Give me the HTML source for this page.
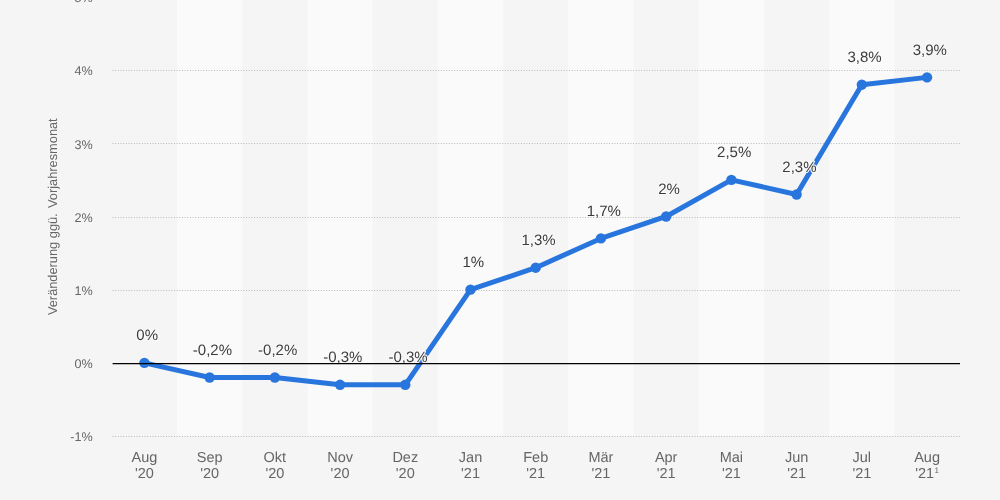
<!DOCTYPE html>
<html><head><meta charset="utf-8"><style>
html,body{margin:0;padding:0;background:#f5f5f5;}
svg{display:block;will-change:transform;}
text{font-family:"Liberation Sans",sans-serif;text-rendering:geometricPrecision;}
.yl{font-size:12.6px;fill:#666;}
.xl{font-size:14.5px;fill:#666;}
.sup{font-size:8px;}
.dl{font-size:15px;fill:#3c3c3c;}
.halo{stroke:#fafafa;stroke-width:2.2px;stroke-linejoin:round;}
.at{font-size:12.8px;fill:#666;}
</style></head><body>
<svg width="1000" height="500" viewBox="0 0 1000 500">
<rect x="0" y="0" width="1000" height="500" fill="#f5f5f5"/>
<rect x="177.02" y="0" width="65.22" height="436.5" fill="#fafafa"/>
<rect x="307.46" y="0" width="65.22" height="436.5" fill="#fafafa"/>
<rect x="437.90" y="0" width="65.22" height="436.5" fill="#fafafa"/>
<rect x="568.34" y="0" width="65.22" height="436.5" fill="#fafafa"/>
<rect x="698.78" y="0" width="65.22" height="436.5" fill="#fafafa"/>
<rect x="829.22" y="0" width="65.22" height="436.5" fill="#fafafa"/>
<line x1="112.5" y1="-2.5" x2="960" y2="-2.5" stroke="#b8b8b8" stroke-width="1" stroke-dasharray="1,1.67"/>
<line x1="112.5" y1="70.5" x2="960" y2="70.5" stroke="#b8b8b8" stroke-width="1" stroke-dasharray="1,1.67"/>
<line x1="112.5" y1="143.5" x2="960" y2="143.5" stroke="#b8b8b8" stroke-width="1" stroke-dasharray="1,1.67"/>
<line x1="112.5" y1="217.5" x2="960" y2="217.5" stroke="#b8b8b8" stroke-width="1" stroke-dasharray="1,1.67"/>
<line x1="112.5" y1="290.5" x2="960" y2="290.5" stroke="#b8b8b8" stroke-width="1" stroke-dasharray="1,1.67"/>
<line x1="112.5" y1="436.5" x2="960" y2="436.5" stroke="#b8b8b8" stroke-width="1" stroke-dasharray="1,1.67"/>
<text x="92.6" y="2.10" text-anchor="end" class="yl">5%</text>
<text x="92.6" y="75.30" text-anchor="end" class="yl">4%</text>
<text x="92.6" y="148.50" text-anchor="end" class="yl">3%</text>
<text x="92.6" y="221.70" text-anchor="end" class="yl">2%</text>
<text x="92.6" y="294.90" text-anchor="end" class="yl">1%</text>
<text x="92.6" y="368.10" text-anchor="end" class="yl">0%</text>
<text x="92.6" y="441.30" text-anchor="end" class="yl">-1%</text>
<path d="M144.41,362.85 L209.63,377.49 L274.85,377.49 L340.07,384.81 L405.29,384.81 L470.51,289.65 L535.73,267.69 L600.95,238.41 L666.17,216.45 L731.39,179.85 L796.61,194.49 L861.83,84.69 L927.05,77.37" fill="none" stroke="#2876dd" stroke-width="5" stroke-linejoin="round" stroke-linecap="round"/>
<circle cx="144.41" cy="362.85" r="5.2" fill="#2876dd"/>
<circle cx="209.63" cy="377.49" r="5.2" fill="#2876dd"/>
<circle cx="274.85" cy="377.49" r="5.2" fill="#2876dd"/>
<circle cx="340.07" cy="384.81" r="5.2" fill="#2876dd"/>
<circle cx="405.29" cy="384.81" r="5.2" fill="#2876dd"/>
<circle cx="470.51" cy="289.65" r="5.2" fill="#2876dd"/>
<circle cx="535.73" cy="267.69" r="5.2" fill="#2876dd"/>
<circle cx="600.95" cy="238.41" r="5.2" fill="#2876dd"/>
<circle cx="666.17" cy="216.45" r="5.2" fill="#2876dd"/>
<circle cx="731.39" cy="179.85" r="5.2" fill="#2876dd"/>
<circle cx="796.61" cy="194.49" r="5.2" fill="#2876dd"/>
<circle cx="861.83" cy="84.69" r="5.2" fill="#2876dd"/>
<circle cx="927.05" cy="77.37" r="5.2" fill="#2876dd"/>
<text x="147.21" y="340.40" text-anchor="middle" class="dl halo">0%</text>
<text x="147.21" y="340.40" text-anchor="middle" class="dl">0%</text>
<text x="212.43" y="355.04" text-anchor="middle" class="dl halo">-0,2%</text>
<text x="212.43" y="355.04" text-anchor="middle" class="dl">-0,2%</text>
<text x="277.65" y="355.04" text-anchor="middle" class="dl halo">-0,2%</text>
<text x="277.65" y="355.04" text-anchor="middle" class="dl">-0,2%</text>
<text x="342.87" y="362.36" text-anchor="middle" class="dl halo">-0,3%</text>
<text x="342.87" y="362.36" text-anchor="middle" class="dl">-0,3%</text>
<text x="408.09" y="362.36" text-anchor="middle" class="dl halo">-0,3%</text>
<text x="408.09" y="362.36" text-anchor="middle" class="dl">-0,3%</text>
<text x="473.31" y="267.20" text-anchor="middle" class="dl halo">1%</text>
<text x="473.31" y="267.20" text-anchor="middle" class="dl">1%</text>
<text x="538.53" y="245.24" text-anchor="middle" class="dl halo">1,3%</text>
<text x="538.53" y="245.24" text-anchor="middle" class="dl">1,3%</text>
<text x="603.75" y="215.96" text-anchor="middle" class="dl halo">1,7%</text>
<text x="603.75" y="215.96" text-anchor="middle" class="dl">1,7%</text>
<text x="668.97" y="194.00" text-anchor="middle" class="dl halo">2%</text>
<text x="668.97" y="194.00" text-anchor="middle" class="dl">2%</text>
<text x="734.19" y="157.40" text-anchor="middle" class="dl halo">2,5%</text>
<text x="734.19" y="157.40" text-anchor="middle" class="dl">2,5%</text>
<text x="799.41" y="172.04" text-anchor="middle" class="dl halo">2,3%</text>
<text x="799.41" y="172.04" text-anchor="middle" class="dl">2,3%</text>
<text x="864.63" y="62.24" text-anchor="middle" class="dl halo">3,8%</text>
<text x="864.63" y="62.24" text-anchor="middle" class="dl">3,8%</text>
<text x="929.85" y="54.92" text-anchor="middle" class="dl halo">3,9%</text>
<text x="929.85" y="54.92" text-anchor="middle" class="dl">3,9%</text>
<line x1="112.6" y1="363.6" x2="960" y2="363.6" stroke="#000" stroke-width="1.2"/>
<text x="144.41" y="461.8" text-anchor="middle" class="xl">Aug</text>
<text x="144.41" y="477.6" text-anchor="middle" class="xl">'20</text>
<text x="209.63" y="461.8" text-anchor="middle" class="xl">Sep</text>
<text x="209.63" y="477.6" text-anchor="middle" class="xl">'20</text>
<text x="274.85" y="461.8" text-anchor="middle" class="xl">Okt</text>
<text x="274.85" y="477.6" text-anchor="middle" class="xl">'20</text>
<text x="340.07" y="461.8" text-anchor="middle" class="xl">Nov</text>
<text x="340.07" y="477.6" text-anchor="middle" class="xl">'20</text>
<text x="405.29" y="461.8" text-anchor="middle" class="xl">Dez</text>
<text x="405.29" y="477.6" text-anchor="middle" class="xl">'20</text>
<text x="470.51" y="461.8" text-anchor="middle" class="xl">Jan</text>
<text x="470.51" y="477.6" text-anchor="middle" class="xl">'21</text>
<text x="535.73" y="461.8" text-anchor="middle" class="xl">Feb</text>
<text x="535.73" y="477.6" text-anchor="middle" class="xl">'21</text>
<text x="600.95" y="461.8" text-anchor="middle" class="xl">Mär</text>
<text x="600.95" y="477.6" text-anchor="middle" class="xl">'21</text>
<text x="666.17" y="461.8" text-anchor="middle" class="xl">Apr</text>
<text x="666.17" y="477.6" text-anchor="middle" class="xl">'21</text>
<text x="731.39" y="461.8" text-anchor="middle" class="xl">Mai</text>
<text x="731.39" y="477.6" text-anchor="middle" class="xl">'21</text>
<text x="796.61" y="461.8" text-anchor="middle" class="xl">Jun</text>
<text x="796.61" y="477.6" text-anchor="middle" class="xl">'21</text>
<text x="861.83" y="461.8" text-anchor="middle" class="xl">Jul</text>
<text x="861.83" y="477.6" text-anchor="middle" class="xl">'21</text>
<text x="927.05" y="461.8" text-anchor="middle" class="xl">Aug</text>
<text x="927.05" y="477.6" text-anchor="middle" class="xl">'21<tspan class="sup" dx="0.3" dy="-4.6">1</tspan></text>
<text transform="translate(57.2,216.7) rotate(-90)" text-anchor="middle" class="at">Veränderung ggü.<tspan dx="1.8"> Vorjahresmonat</tspan></text>
</svg>
</body></html>
